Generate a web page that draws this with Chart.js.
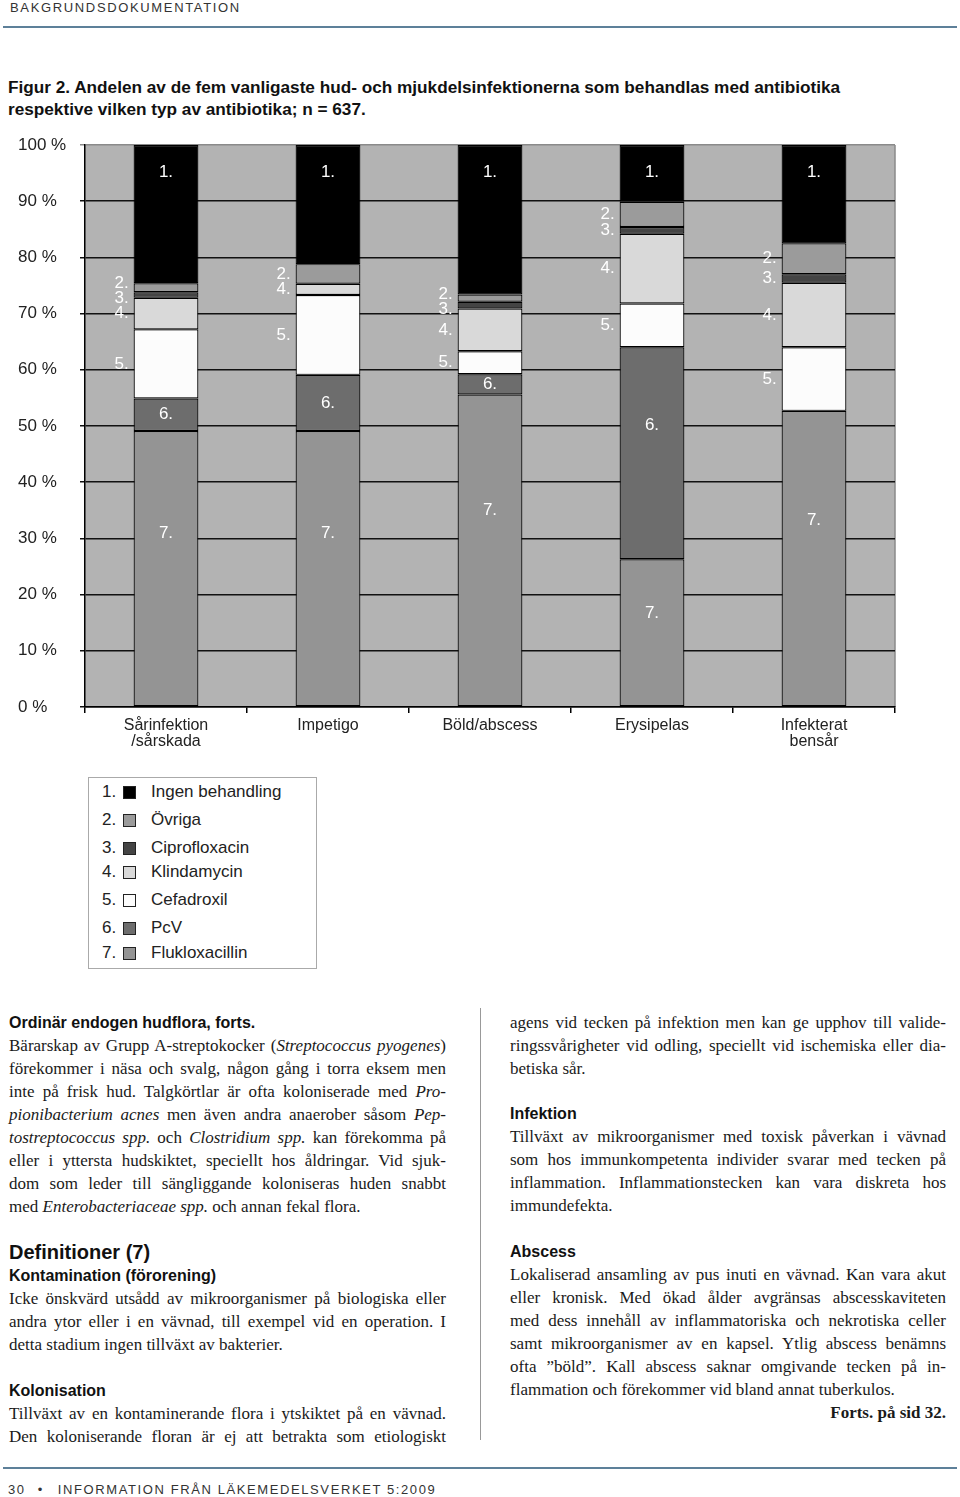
<!DOCTYPE html>
<html lang="sv"><head><meta charset="utf-8">
<script src="https://cdn.jsdelivr.net/npm/chart.js@4.4.1/dist/chart.umd.min.js"></script>
<style>
html,body{margin:0;padding:0;background:#fff;}
body{width:960px;height:1497px;position:relative;overflow:hidden;font-family:'Liberation Sans',Arial,sans-serif;color:#1a1a1a;}
.abs{position:absolute;}
#hdr{left:10px;top:0;font-size:13px;letter-spacing:1.65px;line-height:15px;color:#333;}
.rule{position:absolute;left:3px;width:954px;height:2px;background:#5d8099;}
#title{left:8px;top:76px;font-size:17.2px;font-weight:bold;line-height:22px;color:#111;white-space:nowrap;}
#chartBox{left:0;top:130px;width:960px;height:640px;}
#legend{left:88px;top:777px;width:229px;height:192px;border:1px solid #aaa;box-sizing:border-box;}
.lrow{position:absolute;left:0;height:20px;font-size:17px;line-height:20px;color:#222;}
.lrow .num{position:absolute;left:13px;}
.lrow .sq{position:absolute;left:34px;top:4px;width:11px;height:11px;border:1px solid #222;}
.lrow .lab{position:absolute;left:62px;white-space:nowrap;}
.col{position:absolute;width:437px;line-height:23px;}
.h{font-family:'Liberation Sans',Arial,sans-serif;font-weight:bold;font-size:16px;color:#111;}
.h2{font-family:'Liberation Sans',Arial,sans-serif;font-weight:bold;font-size:20px;color:#111;}
.s{font-family:'Liberation Serif','Times New Roman',serif;font-size:17px;color:#1a1a1a;}
.j{text-align:justify;text-align-last:justify;}
.l{text-align:left;}
#sep{left:480px;top:1008px;width:1px;height:432px;background:#999;}
#foot{left:8px;top:1482px;font-size:13px;letter-spacing:1.6px;line-height:16px;color:#333;white-space:nowrap;}
</style></head>
<body>
<div id="hdr" class="abs">BAKGRUNDSDOKUMENTATION</div>
<div class="rule" style="top:26px"></div>
<div id="title" class="abs">Figur 2. Andelen av de fem vanligaste hud- och mjukdelsinfektionerna som behandlas med antibiotika<br>respektive vilken typ av antibiotika; n = 637.</div>
<div id="chartBox" class="abs"><canvas id="c" width="960" height="640" style="width:960px;height:640px"></canvas></div>
<div id="legend" class="abs"></div>

<div class="col" style="left:9px;top:1010.5px">
<div class="h">Ordinär endogen hudflora, forts.</div>
<div class="s j">Bärarskap av Grupp A-streptokocker (<i>Streptococcus pyogenes</i>)</div>
<div class="s j">förekommer i näsa och svalg, någon gång i torra eksem men</div>
<div class="s j">inte på frisk hud. Talgkörtlar är ofta koloniserade med <i>Pro-</i></div>
<div class="s j"><i>pionibacterium acnes</i> men även andra anaerober såsom <i>Pep-</i></div>
<div class="s j"><i>tostreptococcus spp.</i> och <i>Clostridium spp.</i> kan förekomma på</div>
<div class="s j">eller i yttersta hudskiktet, speciellt hos åldringar. Vid sjuk-</div>
<div class="s j">dom som leder till sängliggande koloniseras huden snabbt</div>
<div class="s l">med <i>Enterobacteriaceae spp.</i> och annan fekal flora.</div>
</div>
<div class="col" style="left:9px;top:1240.5px">
<div class="h2">Definitioner (7)</div>
<div class="h">Kontamination (förorening)</div>
<div class="s j">Icke önskvärd utsådd av mikroorganismer på biologiska eller</div>
<div class="s j">andra ytor eller i en vävnad, till exempel vid en operation. I</div>
<div class="s l">detta stadium ingen tillväxt av bakterier.</div>
</div>
<div class="col" style="left:9px;top:1378.5px">
<div class="h">Kolonisation</div>
<div class="s j">Tillväxt av en kontaminerande flora i ytskiktet på en vävnad.</div>
<div class="s j">Den koloniserande floran är ej att betrakta som etiologiskt</div>
</div>

<div id="sep" class="abs"></div>

<div class="col" style="left:510px;top:1010.5px;width:436px">
<div class="s j">agens vid tecken på infektion men kan ge upphov till valide-</div>
<div class="s j">ringssvårigheter vid odling, speciellt vid ischemiska eller dia-</div>
<div class="s l">betiska sår.</div>
</div>
<div class="col" style="left:510px;top:1101.5px;width:436px">
<div class="h">Infektion</div>
<div class="s j">Tillväxt av mikroorganismer med toxisk påverkan i vävnad</div>
<div class="s j">som hos immunkompetenta individer svarar med tecken på</div>
<div class="s j">inflammation. Inflammationstecken kan vara diskreta hos</div>
<div class="s l">immundefekta.</div>
</div>
<div class="col" style="left:510px;top:1239.5px;width:436px">
<div class="h">Abscess</div>
<div class="s j">Lokaliserad ansamling av pus inuti en vävnad. Kan vara akut</div>
<div class="s j">eller kronisk. Med ökad ålder avgränsas abscesskaviteten</div>
<div class="s j">med dess innehåll av inflammatoriska och nekrotiska celler</div>
<div class="s j">samt mikroorganismer av en kapsel. Ytlig abscess benämns</div>
<div class="s j">ofta ”böld”. Kall abscess saknar omgivande tecken på in-</div>
<div class="s l">flammation och förekommer vid bland annat tuberkulos.</div>
<div class="s" style="text-align:right;font-weight:bold">Forts. på sid 32.</div>
</div>

<div class="rule" style="top:1467px"></div>
<div id="foot" class="abs">30<span style="margin:0 14px 0 12px">•</span>INFORMATION FRÅN LÄKEMEDELSVERKET 5:2009</div>

<script>
// ---- data ----
const categories = [["Sårinfektion", "/sårskada"], "Impetigo", "Böld/abscess", "Erysipelas", ["Infekterat", "bensår"]];
const seriesNames = ["Ingen behandling", "Övriga", "Ciprofloxacin", "Klindamycin", "Cefadroxil", "PcV", "Flukloxacillin"];
const ingenBehandling = [24.6, 21.2, 26.6, 10.1, 17.5];
const ovriga          = [1.6, 3.5, 1.3, 4.5, 5.5];
const ciprofloxacin   = [1.0, 0, 1.2, 1.2, 1.5];
const klindamycin     = [5.6, 2.0, 7.6, 12.4, 11.5];
const cefadroxil      = [12.3, 14.2, 4.1, 7.8, 11.3];
const pcv             = [5.8, 10.0, 3.6, 37.7, 0];
const flukloxacillin  = [49.1, 49.1, 55.6, 26.3, 52.7];
const yTickValues = [0, 10, 20, 30, 40, 50, 60, 70, 80, 90, 100];

// ---- styles ----
const seriesColors = ["#000000", "#9b9b9b", "#444444", "#d9d9d9", "#fcfcfc", "#6d6d6d", "#949494"];
const FONT = "'Liberation Sans', Arial, sans-serif";

const seriesValues = [ingenBehandling, ovriga, ciprofloxacin, klindamycin, cefadroxil, pcv, flukloxacillin];

// legend (HTML)
const legendEl = document.getElementById('legend');
const rowTops = [4, 32, 60, 84, 112, 140, 165];
seriesNames.forEach((name, i) => {
  const r = document.createElement('div');
  r.className = 'lrow';
  r.style.top = rowTops[i] + 'px';
  r.innerHTML = '<span class="num">' + (i + 1) + '.</span><span class="sq" style="background:' + seriesColors[i] + '"></span><span class="lab">' + name + '</span>';
  legendEl.appendChild(r);
});

// datasets: bottom of stack first (series 7 at the bottom)
const datasets = seriesValues.map((vals, i) => ({
  label: seriesNames[i],
  data: vals,
  num: i + 1,
  backgroundColor: seriesColors[i],
  borderColor: '#000',
  borderWidth: ctx => (ctx.raw ? 1.2 : 0),
  borderSkipped: false
})).reverse();

const plotBg = {
  id: 'plotBg',
  beforeDraw(chart) {
    const { ctx, chartArea: a } = chart;
    ctx.save();
    ctx.fillStyle = '#b3b3b3';
    ctx.fillRect(a.left, a.top, a.right - a.left, a.bottom - a.top);
    ctx.strokeStyle = '#8a8a8a';
    ctx.lineWidth = 1.5;
    ctx.beginPath();
    ctx.moveTo(a.right, a.top);
    ctx.lineTo(a.right, a.bottom);
    ctx.stroke();
    ctx.restore();
  }
};

const segLabels = {
  id: 'segLabels',
  afterDatasetsDraw(chart) {
    const ctx = chart.ctx;
    ctx.save();
    ctx.fillStyle = '#fff';
    ctx.font = '17px ' + FONT;
    ctx.textBaseline = 'middle';
    for (let j = 0; j < categories.length; j++) {
      const side = [];
      chart.data.datasets.forEach((ds, di) => {
        const v = ds.data[j];
        if (!v) return;
        const el = chart.getDatasetMeta(di).data[j];
        const top = Math.min(el.y, el.base), bot = Math.max(el.y, el.base), h = bot - top;
        const txt = ds.num + '.';
        if (ds.num === 1) {
          ctx.textAlign = 'center';
          ctx.fillText(txt, el.x, top + 27);
        } else if (ds.num >= 6) {
          ctx.textAlign = 'center';
          ctx.fillText(txt, el.x, h > 100 ? bot - 0.63 * h : (top + bot) / 2);
        } else {
          side.push({ txt, y: (top + bot) / 2, x: el.x - el.width / 2 - 5 });
        }
      });
      side.sort((a, b) => a.y - b.y);
      for (let it = 0; it < 20; it++) {
        for (let k = 1; k < side.length; k++) {
          const g = side[k].y - side[k - 1].y;
          if (g < 15) { const d = (15 - g) / 2; side[k - 1].y -= d; side[k].y += d; }
        }
      }
      ctx.textAlign = 'right';
      side.forEach(s => ctx.fillText(s.txt, s.x, s.y));
    }
    ctx.restore();
  }
};

new Chart(document.getElementById('c'), {
  type: 'bar',
  data: { labels: categories, datasets },
  plugins: [plotBg, segLabels],
  options: {
    responsive: false,
    animation: false,
    devicePixelRatio: 1,
    layout: { padding: { left: 18, right: 65, top: 15, bottom: 8 } },
    plugins: { legend: { display: false }, tooltip: { enabled: false } },
    datasets: { bar: { categoryPercentage: 1, barPercentage: 0.4 } },
    scales: {
      x: {
        stacked: true,
        offset: true,
        grid: { offset: true, drawOnChartArea: false, drawTicks: true, tickLength: 6, color: '#000', lineWidth: 1.5 },
        border: { color: '#000', width: 1.5 },
        ticks: { color: '#222', font: { family: FONT, size: 16, lineHeight: 1.0 }, padding: 5, maxRotation: 0, autoSkip: false },
        afterFit(s) { s.height = 55; }
      },
      y: {
        stacked: true,
        min: 0,
        max: 100,
        afterBuildTicks(s) { s.ticks = yTickValues.map(v => ({ value: v })); },
        ticks: { callback: v => v + ' %', crossAlign: 'far', color: '#222', font: { family: FONT, size: 17 } },
        grid: { color: ctx => (ctx.tick && ctx.tick.value === 100 ? '#8a8a8a' : '#111'), lineWidth: 1.5, tickLength: 5 },
        border: { color: '#000', width: 1.5 },
        afterFit(s) { s.width = 67; }
      }
    }
  }
});
</script>
</body></html>
